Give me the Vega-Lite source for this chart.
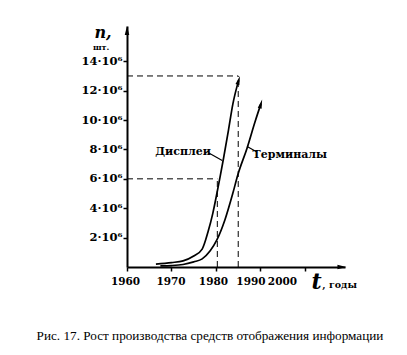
{
  "$schema": "https://vega.github.io/schema/vega-lite/v6.json",
  "width": 218,
  "height": 241,
  "autosize": "none",
  "padding": {"left": 127, "top": 26, "right": 62, "bottom": 88},
  "background": "white",
  "config": {"view": {"stroke": null}},
  "title": {
    "text": "Рис. 17. Рост производства средств отображения информации",
    "orient": "bottom",
    "anchor": "middle",
    "dx": -26,
    "offset": 37,
    "font": "Liberation Serif",
    "fontSize": 13.2,
    "fontWeight": "normal",
    "color": "black"
  },
  "datasets": {
    "guides": [
      {"x": 1960, "x2": 1985, "y": 13, "y2": 13},
      {"x": 1985, "x2": 1985, "y": 0, "y2": 13},
      {"x": 1960, "x2": 1980.3, "y": 6, "y2": 6},
      {"x": 1980.3, "x2": 1980.3, "y": 0, "y2": 6}
    ],
    "curves": [
      {"series": "Дисплеи", "year": 1966.5, "n": 0.2},
      {"series": "Дисплеи", "year": 1970, "n": 0.3},
      {"series": "Дисплеи", "year": 1972.6, "n": 0.42},
      {"series": "Дисплеи", "year": 1975, "n": 0.75},
      {"series": "Дисплеи", "year": 1976.9, "n": 1.22},
      {"series": "Дисплеи", "year": 1978.2, "n": 2.38},
      {"series": "Дисплеи", "year": 1979.3, "n": 3.67},
      {"series": "Дисплеи", "year": 1980.2, "n": 5.0},
      {"series": "Дисплеи", "year": 1980.9, "n": 6.1},
      {"series": "Дисплеи", "year": 1981.7, "n": 7.4},
      {"series": "Дисплеи", "year": 1982.8, "n": 9.3},
      {"series": "Дисплеи", "year": 1983.8, "n": 11.1},
      {"series": "Дисплеи", "year": 1985.1, "n": 12.7},
      {"series": "Терминалы", "year": 1967.5, "n": 0.08},
      {"series": "Терминалы", "year": 1970, "n": 0.1},
      {"series": "Терминалы", "year": 1972.6, "n": 0.17},
      {"series": "Терминалы", "year": 1975, "n": 0.35},
      {"series": "Терминалы", "year": 1976.9, "n": 0.55},
      {"series": "Терминалы", "year": 1978.7, "n": 1.1},
      {"series": "Терминалы", "year": 1980.2, "n": 1.84},
      {"series": "Терминалы", "year": 1982.0, "n": 3.2},
      {"series": "Терминалы", "year": 1983.8, "n": 5.03},
      {"series": "Терминалы", "year": 1984.9, "n": 6.26},
      {"series": "Терминалы", "year": 1987.0, "n": 8.1},
      {"series": "Терминалы", "year": 1988.8, "n": 9.9},
      {"series": "Терминалы", "year": 1990.1, "n": 11.1}
    ],
    "curveEnds": [
      {"series": "Дисплеи", "year": 1985.1, "n": 12.7},
      {"series": "Терминалы", "year": 1990.1, "n": 11.1}
    ],
    "leaders": [
      {"series": "Дисплеи", "x": 1978.4, "y": 7.76, "x2": 1981.4, "y2": 7.25},
      {"series": "Терминалы", "x": 1989.2, "y": 7.82, "x2": 1987.0, "y2": 8.2}
    ],
    "seriesLabels": [
      {"label": "Дисплеи", "x": 1972.6, "y": 7.82},
      {"label": "Терминалы", "x": 1996.6, "y": 7.62}
    ]
  },
  "layer": [
    {
      "data": {"name": "guides"},
      "mark": {"type": "rule", "color": "black", "strokeWidth": 1, "strokeDash": [6, 4]},
      "encoding": {
        "x": {
          "field": "x", "type": "quantitative",
          "scale": {"domain": [1960, 2009], "nice": false, "zero": false},
          "axis": {
            "title": null,
            "values": [1960, 1970, 1980, 1990, 2000],
            "format": "d",
            "grid": false,
            "labelOverlap": false,
            "labelFlush": false,
            "domainColor": "black", "domainWidth": 2,
            "tickColor": "black", "tickWidth": 1.5, "tickSize": 4,
            "labelFont": "DejaVu Serif", "labelFontWeight": "bold", "labelFontSize": 10.5,
            "labelColor": "black", "labelPadding": 5,
            "labelOffset": {"expr": "datum.value == 2000 ? -23 : datum.value == 1990 ? -10 : datum.value == 1980 ? -3 : datum.value == 1970 ? -1 : -2"}
          }
        },
        "x2": {"field": "x2"},
        "y": {
          "field": "y", "type": "quantitative",
          "scale": {"domain": [0, 16.4], "nice": false, "zero": true},
          "axis": {
            "title": null,
            "values": [2, 4, 6, 8, 10, 12, 14],
            "labelExpr": "datum.value + '·10⁶'",
            "grid": false,
            "labelOverlap": false,
            "domainColor": "black", "domainWidth": 2,
            "tickColor": "black", "tickWidth": 1.5, "tickSize": 4,
            "labelFont": "DejaVu Serif", "labelFontWeight": "bold", "labelFontSize": 11.5,
            "labelColor": "black", "labelPadding": 1
          }
        },
        "y2": {"field": "y2"}
      }
    },
    {
      "data": {"name": "curves"},
      "mark": {"type": "line", "interpolate": "monotone", "color": "black", "strokeWidth": 1.7},
      "encoding": {
        "x": {"field": "year", "type": "quantitative"},
        "y": {"field": "n", "type": "quantitative"},
        "detail": {"field": "series"}
      }
    },
    {
      "data": {"name": "curveEnds"},
      "mark": {"type": "point", "shape": "M0,-1L0.45,1L-0.45,1Z", "filled": true, "color": "black", "opacity": 1, "size": 80, "angle": 16},
      "encoding": {
        "x": {"field": "year", "type": "quantitative"},
        "y": {"field": "n", "type": "quantitative"}
      }
    },
    {
      "data": {"values": [{"year": 1960, "n": 16.1}]},
      "mark": {"type": "point", "shape": "M0,-1L0.5,1L-0.5,1Z", "filled": true, "color": "black", "opacity": 1, "size": 80, "angle": 0, "zindex": 2},
      "encoding": {
        "x": {"field": "year", "type": "quantitative"},
        "y": {"field": "n", "type": "quantitative"}
      }
    },
    {
      "data": {"values": [{"year": 2008.3, "n": 0}]},
      "mark": {"type": "point", "shape": "M0,-1L0.5,1L-0.5,1Z", "filled": true, "color": "black", "opacity": 1, "size": 80, "angle": 90, "zindex": 2},
      "encoding": {
        "x": {"field": "year", "type": "quantitative"},
        "y": {"field": "n", "type": "quantitative"}
      }
    },
    {
      "data": {"name": "leaders"},
      "mark": {"type": "rule", "color": "black", "strokeWidth": 1.2},
      "encoding": {
        "x": {"field": "x", "type": "quantitative"},
        "x2": {"field": "x2"},
        "y": {"field": "y", "type": "quantitative"},
        "y2": {"field": "y2"}
      }
    },
    {
      "data": {"name": "seriesLabels"},
      "mark": {"type": "text", "font": "DejaVu Serif", "fontWeight": "bold", "fontSize": 11, "color": "black", "align": "center", "baseline": "middle"},
      "encoding": {
        "x": {"field": "x", "type": "quantitative"},
        "y": {"field": "y", "type": "quantitative"},
        "text": {"field": "label"}
      }
    },
    {
      "data": {"values": [{"label": "n,", "x": 1954.6, "y": 15.6}]},
      "mark": {"type": "text", "font": "DejaVu Serif", "fontWeight": "bold", "fontStyle": "italic", "fontSize": 16, "color": "black", "align": "center", "baseline": "alphabetic"},
      "encoding": {
        "x": {"field": "x", "type": "quantitative"},
        "y": {"field": "y", "type": "quantitative"},
        "text": {"field": "label"}
      }
    },
    {
      "data": {"values": [{"label": "шт.", "x": 1954.2, "y": 14.75}]},
      "mark": {"type": "text", "font": "DejaVu Serif", "fontWeight": "bold", "fontSize": 8, "color": "black", "align": "center", "baseline": "alphabetic"},
      "encoding": {
        "x": {"field": "x", "type": "quantitative"},
        "y": {"field": "y", "type": "quantitative"},
        "text": {"field": "label"}
      }
    },
    {
      "data": {"values": [{"label": "t", "x": 2002.6, "y": -1.5}]},
      "mark": {"type": "text", "font": "DejaVu Serif", "fontWeight": "bold", "fontStyle": "italic", "fontSize": 22, "color": "black", "align": "center", "baseline": "alphabetic"},
      "encoding": {
        "x": {"field": "x", "type": "quantitative"},
        "y": {"field": "y", "type": "quantitative"},
        "text": {"field": "label"}
      }
    },
    {
      "data": {"values": [{"label": ", годы", "x": 2003.9, "y": -1.43}]},
      "mark": {"type": "text", "font": "DejaVu Serif", "fontWeight": "bold", "fontSize": 9.5, "color": "black", "align": "left", "baseline": "alphabetic"},
      "encoding": {
        "x": {"field": "x", "type": "quantitative"},
        "y": {"field": "y", "type": "quantitative"},
        "text": {"field": "label"}
      }
    }
  ]
}
